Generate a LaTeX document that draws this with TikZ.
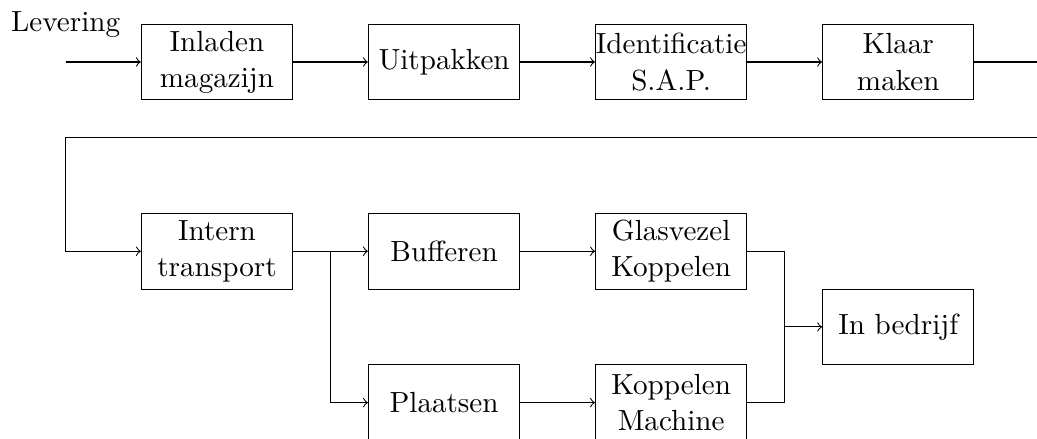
\documentclass[tikz,border=0pt]{standalone}
\usetikzlibrary{positioning}
\begin{document}
\begin{tikzpicture}[
  every node/.style={font=\fontsize{10.95}{13.6}\selectfont},
  stepbox/.style={draw, minimum width=2cm, minimum height=1cm, align=center, inner sep=0pt},
  flow/.style={->}
]
\useasboundingbox (-2.867,0.819) rectangle (10.833,-4.980);
\clip (-2.867,0.819) rectangle (10.833,-4.980);

% first row
\node[stepbox] (inl) at (0,0) {Inladen\\magazijn};
\node[stepbox] (uit) at (3,0) {Uitpakken};
\node[stepbox] (ide) at (6,0) {Identificatie\\S.A.P.};
\node[stepbox] (kla) at (9,0) {Klaar\\maken};

% second part
\node[stepbox] (int) at (0,-2.5) {Intern\\transport};
\node[stepbox] (buf) at (3,-2.5) {Bufferen};
\node[stepbox] (gla) at (6,-2.5) {Glasvezel\\Koppelen};
\node[stepbox] (bed) at (9,-3.5) {In bedrijf};
\node[stepbox] (pla) at (3,-4.5) {Plaatsen};
\node[stepbox] (kop) at (6,-4.5) {Koppelen\\Machine};

% input
\coordinate (in) at (-2,0);
\node[anchor=base] (lev) at (-2,0.4) {Levering};
\draw[flow] (in) -- (inl);

\draw[flow] (inl) -- (uit);
\draw[flow] (uit) -- (ide);
\draw[flow] (ide) -- (kla);

% return line to the second row
\coordinate (r1) at (11,0);
\coordinate (r2) at (11,-1);
\coordinate (r3) at (-2,-1);
\coordinate (r4) at (-2,-2.5);
\draw[flow] (kla) -- (r1) -- (r2) -- (r3) -- (r4) -- (int);

% split
\coordinate (sp) at (1.5,-2.5);
\coordinate (sp2) at (1.5,-4.5);
\draw (int) -- (sp);
\draw[flow] (sp) -- (buf);
\draw[flow] (sp) -- (sp2) -- (pla);

\draw[flow] (buf) -- (gla);
\draw[flow] (pla) -- (kop);

% join
\coordinate (j1) at (7.5,-2.5);
\coordinate (j2) at (7.5,-4.5);
\coordinate (jm) at (7.5,-3.5);
\draw (gla) -- (j1) -- (j2) -- (kop);
\draw[flow] (jm) -- (bed);
\end{tikzpicture}
\end{document}
